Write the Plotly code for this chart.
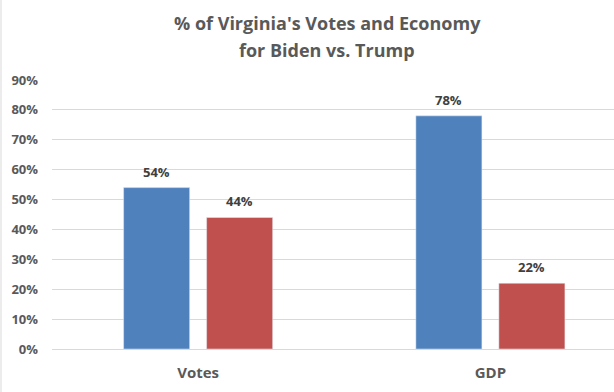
import plotly.graph_objects as go

categories = ["Votes", "GDP"]
biden = [54, 78]
trump = [44, 22]
biden_labels = ["54%", "78%"]
trump_labels = ["44%", "22%"]
y_ticks = [0, 10, 20, 30, 40, 50, 60, 70, 80, 90]
y_tick_labels = ["0%", "10%", "20%", "30%", "40%", "50%", "60%", "70%", "80%", "90%"]
title_lines = ["% of Virginia's Votes and Economy", "for Biden vs. Trump"]

BLUE = "#4F81BD"
RED = "#C0504D"
FONT = "Open Sans"

bar_w = 0.226
blue_off = -0.255
red_off = 0.029

fig = go.Figure()
fig.add_trace(go.Bar(x=categories, y=biden, marker_color=BLUE, width=bar_w,
                     offset=blue_off, name="Biden", hoverinfo="skip"))
fig.add_trace(go.Bar(x=categories, y=trump, marker_color=RED, width=bar_w,
                     offset=red_off, name="Trump", hoverinfo="skip"))

annotations = []
for i in range(len(categories)):
    annotations.append(dict(x=i + blue_off + bar_w / 2, y=biden[i], xref="x", yref="y",
                            text=biden_labels[i], showarrow=False, yanchor="bottom",
                            yshift=5, font=dict(family=FONT, size=13, color="#404040", weight="bold")))
    annotations.append(dict(x=i + red_off + bar_w / 2, y=trump[i], xref="x", yref="y",
                            text=trump_labels[i], showarrow=False, yanchor="bottom",
                            yshift=5, font=dict(family=FONT, size=13, color="#404040", weight="bold")))

# title as two lines (plot area: x 52..614 px, y 80..349 px)
for line, py in zip(title_lines, [23, 50]):
    annotations.append(dict(x=(327 - 52) / 562, y=(349 - py) / 269, xref="paper", yref="paper",
                            text=line, showarrow=False, xanchor="center", yanchor="middle",
                            font=dict(family=FONT, size=18, color="#595959", weight="bold")))

fig.update_layout(
    width=614, height=392,
    margin=dict(l=52, r=0, t=80, b=43),
    paper_bgcolor="white", plot_bgcolor="white",
    barmode="overlay",
    showlegend=False,
    annotations=annotations,
    shapes=[dict(type="line", xref="paper", yref="paper",
                 x0=-51 / 562, x1=-51 / 562, y0=-43 / 269, y1=1 + 80 / 269,
                 line=dict(color="#D9D9D9", width=1))],
)
fig.update_xaxes(type="category", range=[-0.5, 1.423], showgrid=False, showline=False,
                 ticks="", tickfont=dict(family=FONT, size=15, color="#595959", weight="bold"),
                 ticklabelstandoff=13)
fig.update_yaxes(range=[0, 90], tickvals=y_ticks, ticktext=y_tick_labels,
                 showgrid=True, gridcolor="#D9D9D9", gridwidth=1, zeroline=True,
                 zerolinecolor="#D9D9D9", zerolinewidth=1, showline=False, ticks="",
                 tickfont=dict(family=FONT, size=13, color="#595959", weight="bold"),
                 ticklabelstandoff=13)

fig.write_html("out.html", config={"displayModeBar": False},
               post_script="document.body.style.margin='0';")
